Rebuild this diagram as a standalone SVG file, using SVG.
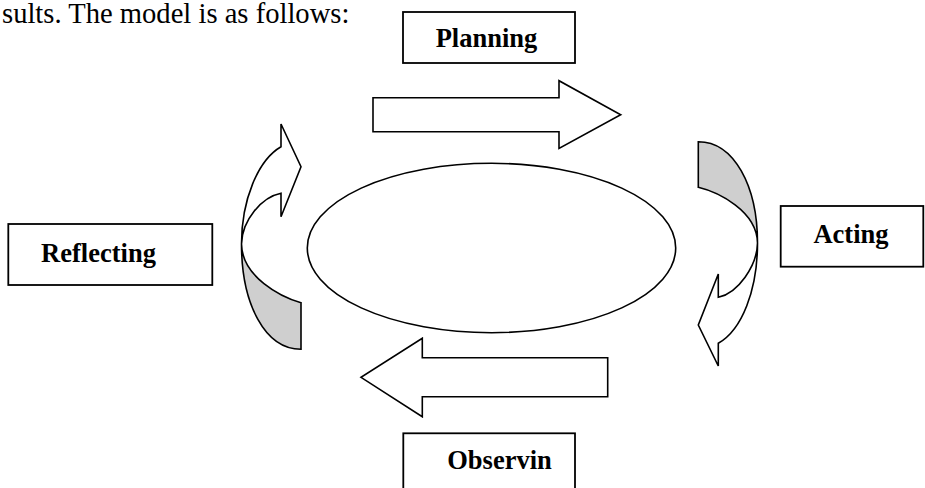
<svg xmlns="http://www.w3.org/2000/svg" width="925" height="488" viewBox="0 0 925 488">
<style>
  .box{fill:#fff;stroke:#000;stroke-width:1.8}
  .lbl{font-family:"Liberation Serif","Times New Roman",serif;font-weight:bold;font-size:26.5px;fill:#000;text-anchor:middle}
  .body{font-family:"Liberation Serif","Times New Roman",serif;font-size:28.6px;fill:#000}
  .shape{fill:#fff;stroke:#000;stroke-width:1.6;stroke-linejoin:miter}
  .back{fill:#cfcfcf;stroke:#000;stroke-width:1.6}
</style>
<rect width="925" height="488" fill="#fff"/>
<text class="body" x="2" y="23">sults. The model is as follows:</text>

<g id="connectors">
  <path class="shape" d="M373 97.7 L559 97.7 L559 80.7 L620.7 114.7 L559 148.5 L559 131.7 L373 131.7 Z"/>
  <path class="shape" d="M607.7 357.7 L422.3 357.7 L422.3 338.3 L361 377.3 L422.3 416.7 L422.3 396.7 L607.7 396.7 Z"/>
  <g id="curved-left">
    <path class="back" d="M301 349.3 C265 349.3 241.5 304 241.5 244 C242 277 281 297 301 302.7 Z"/>
    <path class="shape" d="M241.5 244 C241.5 200 258 160 281 146.7 L281 124 L301 166.7 L281 216.7 L281 193.3 C262 197 242 220 241.5 244 Z"/>
  </g>
  <g id="curved-right">
    <path class="back" d="M698.3 141.7 C734 141.7 757.5 186 757.5 243 C757 211 718 192 698.3 187.3 Z"/>
    <path class="shape" d="M757.5 243 C757.5 290 742 330 718.3 343.3 L718.3 366 L698.3 325 L718.3 274 L718.3 297.3 C738 293 757 266 757.5 243 Z"/>
  </g>
</g>

<g id="center">
  <ellipse cx="491.5" cy="248" rx="184.2" ry="84.7" fill="#fff" stroke="#000" stroke-width="1.6"/>
</g>

<g id="planning">
  <rect class="box" x="403" y="12" width="172" height="51"/>
  <text class="lbl" x="486.5" y="47">Planning</text>
</g>
<g id="acting">
  <rect class="box" x="780.7" y="206" width="142.6" height="60.7"/>
  <text class="lbl" x="851" y="243.3">Acting</text>
</g>
<g id="observing">
  <rect class="box" x="403.3" y="433.3" width="171.7" height="70"/>
  <text class="lbl" x="499.5" y="469">Observin</text>
</g>
<g id="reflecting">
  <rect class="box" x="8.3" y="224" width="204" height="61"/>
  <text class="lbl" x="98.5" y="261.7">Reflecting</text>
</g>
</svg>
